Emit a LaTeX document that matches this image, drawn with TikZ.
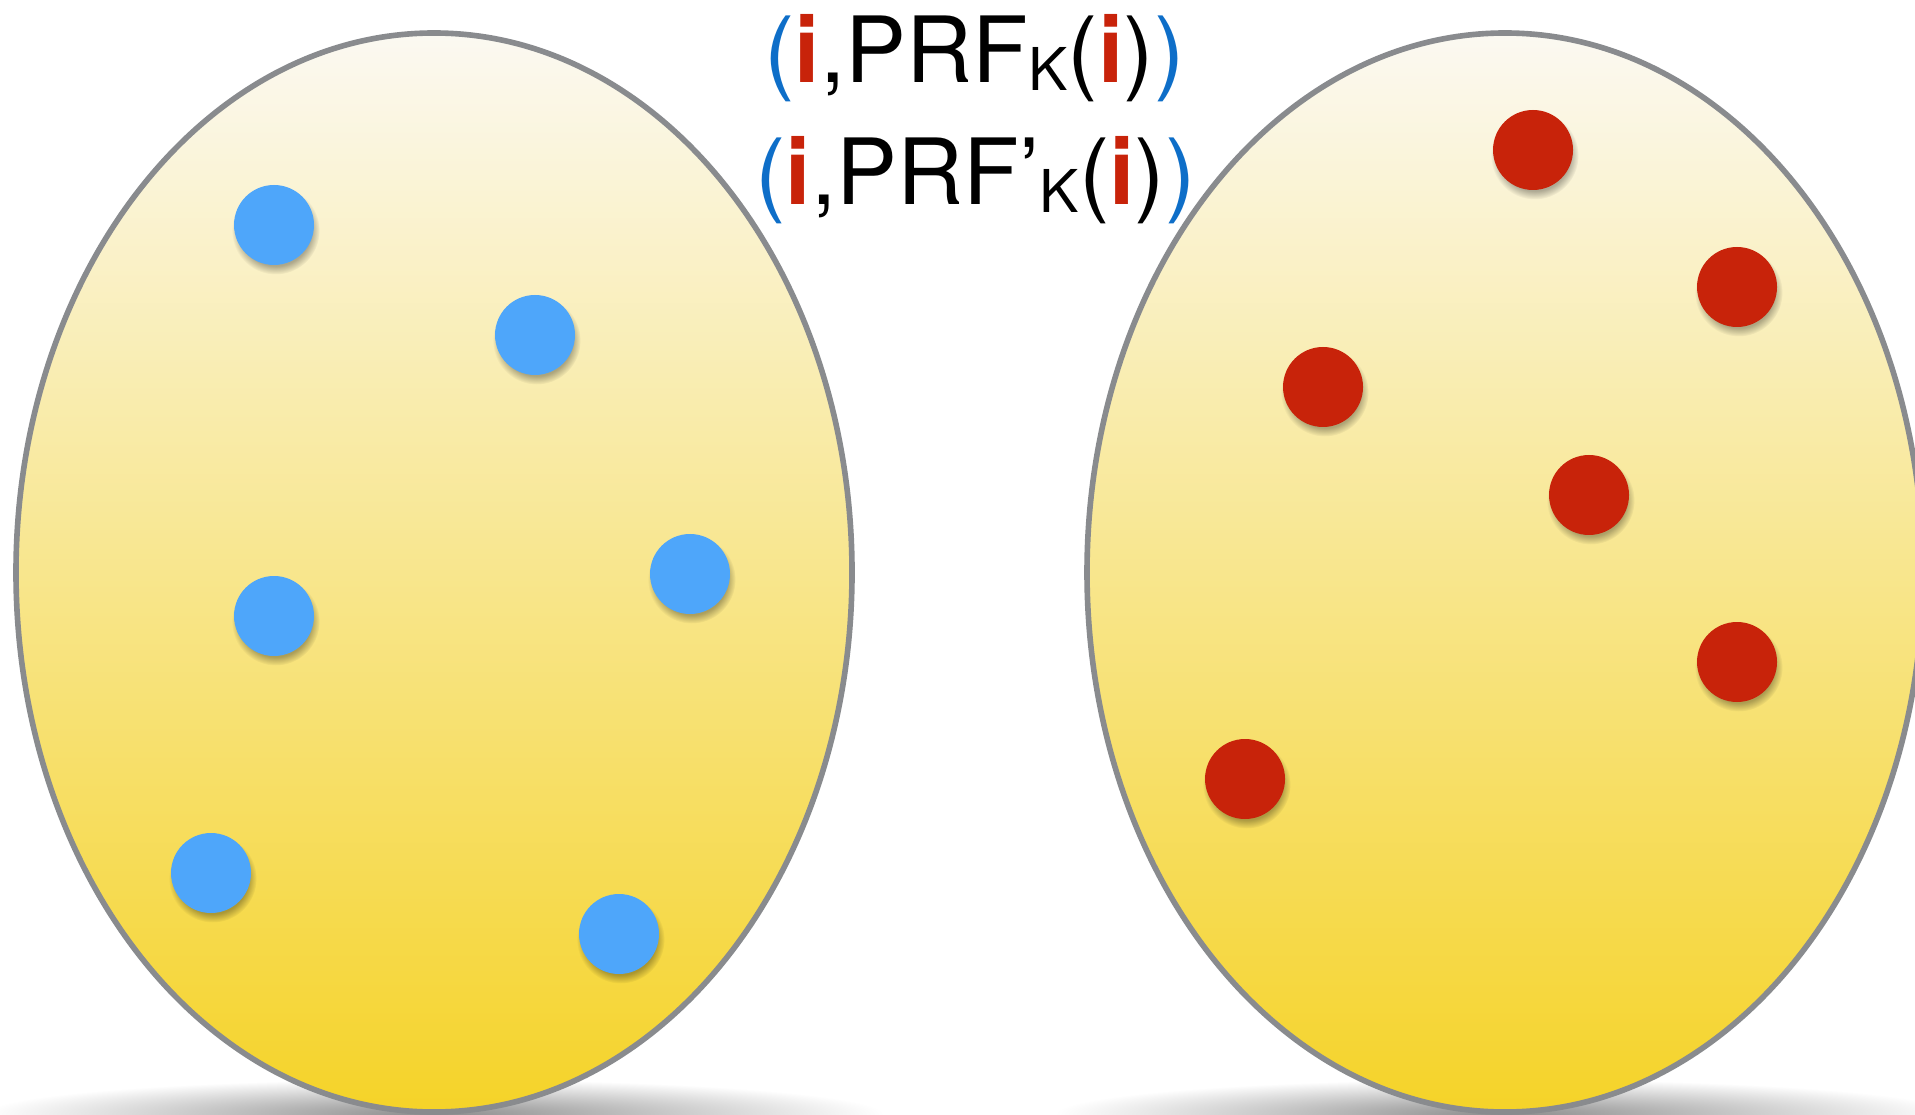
\documentclass[tikz,border=0pt]{standalone}
\usepackage{fontspec}
\setmainfont{TeX Gyre Heros}
\usepackage{xcolor}
\usetikzlibrary{positioning,shadows,fadings}
\definecolor{dotblue}{RGB}{78,166,250}
\definecolor{dotred}{RGB}{200,35,10}
\definecolor{parblue}{RGB}{14,110,200}
\definecolor{eggtop}{RGB}{251,249,242}
\definecolor{eggbot}{RGB}{245,211,40}
\definecolor{eggline}{RGB}{137,139,142}
\newcommand{\EggRx}{4.18}
\newcommand{\EggRy}{5.395}
\newcommand{\EggY}{5.415}
\newcommand{\Idx}{{\color{dotred}\bfseries i}}
\newcommand{\SubK}{\raisebox{-.08em}{\fontsize{16.8}{17}\selectfont K}}

\begin{document}
\begin{tikzpicture}[x=1cm,y=1cm,
  egg/.style={top color=eggtop,bottom color=eggbot,draw=eggline,line width=1.6pt},
  eggshadow/.style={inner color=black!45,outer color=white},
  dot/.style={circle,inner sep=0pt,minimum size=8mm,
    drop shadow={fill=black,opacity=.3,shadow xshift=.15mm,shadow yshift=-.5mm,
      shadow scale=1.1,path fading=circle with fuzzy edge 20 percent}},
  bluedot/.style={dot,fill=dotblue},
  reddot/.style={dot,fill=dotred},
  pair/.style={anchor=base,inner sep=0pt,font=\fontsize{26}{30}\selectfont}]
\clip (0,0) rectangle (19.15,11.14);
% shadows under the two sets
\shade[eggshadow] (4.34,0) ellipse [x radius=4.5, y radius=.35];
\shade[eggshadow] (15.05,0) ellipse [x radius=4.5, y radius=.35];
% the two sets
\shade[egg] (4.34,\EggY) ellipse [x radius=\EggRx, y radius=\EggRy];
\shade[egg] (15.05,\EggY) ellipse [x radius=\EggRx, y radius=\EggRy];
% points of the first set
\node[bluedot] (b1) at (2.74,8.89) {};
\node[bluedot] (b2) at (5.35,7.79) {};
\node[bluedot] (b3) at (6.90,5.40) {};
\node[bluedot] (b4) at (2.74,4.98) {};
\node[bluedot] (b5) at (2.11,2.41) {};
\node[bluedot] (b6) at (6.19,1.80) {};
% points of the second set
\node[reddot] (r1) at (15.33,9.64) {};
\node[reddot] (r2) at (17.37,8.27) {};
\node[reddot] (r3) at (13.23,7.27) {};
\node[reddot] (r4) at (15.89,6.19) {};
\node[reddot] (r5) at (17.37,4.52) {};
\node[reddot] (r6) at (12.45,3.35) {};
% the two pairs
\node[pair] (prf) at (9.745,10.31)
  {{\color{parblue}(}\Idx,PRF\SubK(\Idx){\color{parblue})}};
\node[pair] (prf2) at (9.755,9.09)
  {{\color{parblue}(}\Idx,PRF’\SubK(\Idx){\color{parblue})}};
\end{tikzpicture}
\end{document}
